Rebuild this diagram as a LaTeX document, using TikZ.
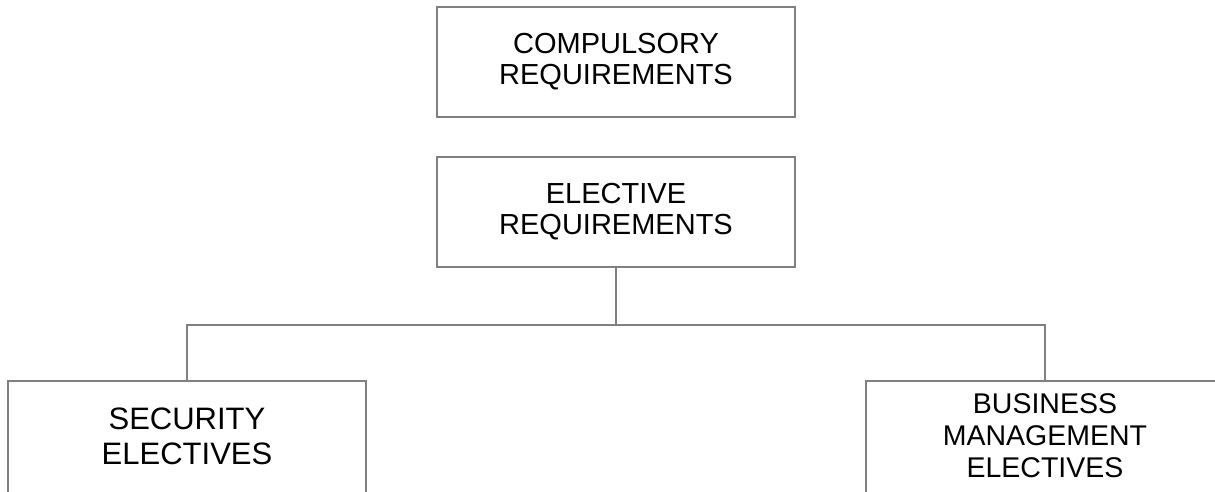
\documentclass[tikz,border=0pt]{standalone}
\usepackage{fontspec}
\setmainfont{Liberation Sans}
\begin{document}
\begin{tikzpicture}[x=1pt,y=-1pt]
        \tikzstyle{reqbox}=[rectangle,draw=black!50,line width=1.5pt,minimum width=358pt,minimum height=110pt,inner sep=0pt,align=center,font=\fontsize{29}{31}\selectfont]
        \tikzstyle{openbox}=[reqbox,minimum height=130pt,text depth=20pt]
        \tikzstyle{link}=[draw=black!50,line width=1.5pt]
        \useasboundingbox (0,0) rectangle (1215,491);
        \clip (0,0) rectangle (1215,491);
       \begin{scope}
         \node [reqbox] (comp) at (616,62) {COMPULSORY\\REQUIREMENTS};
         \node [reqbox] (elec) at (616,212) {ELECTIVE\\REQUIREMENTS};
         \node [openbox,font=\fontsize{31}{35}\selectfont] (sec) at (187,446) {SECURITY\\ELECTIVES};
         \node [openbox,font=\fontsize{28.5}{32}\selectfont] (bus) at (1045,446) {BUSINESS\\MANAGEMENT\\ELECTIVES};
         \coordinate (split) at (616,325);
         \path[link] (elec.south) -- (split) -| (sec.north);
         \path[link] (split) -| (bus.north);
        \end{scope}
      \end{tikzpicture}
\end{document}
